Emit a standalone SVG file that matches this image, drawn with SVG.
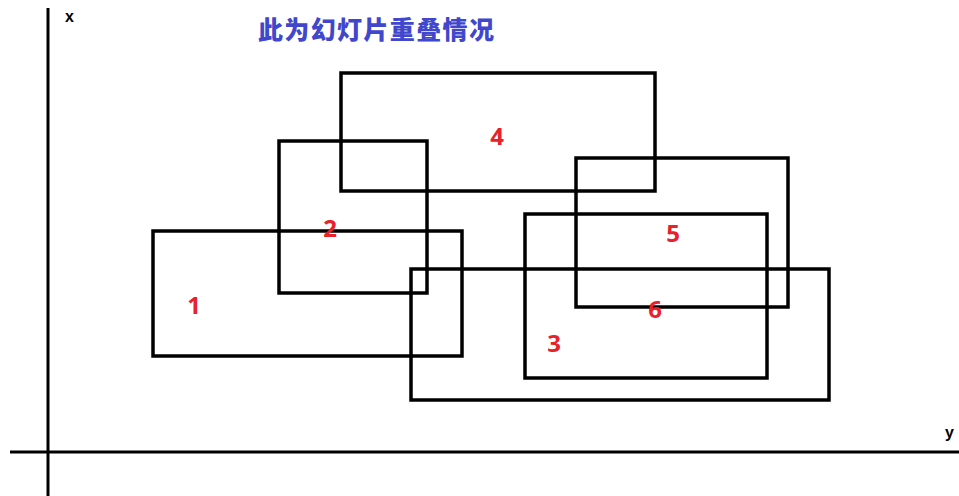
<svg xmlns="http://www.w3.org/2000/svg" width="959" height="496" viewBox="0 0 959 496">
<style>
.r{fill:none;stroke:#000;stroke-width:3.5}
.ax{stroke:#000;stroke-width:3}
.n{font-family:"Open Sans","Liberation Sans",sans-serif;font-weight:bold;font-size:24px;fill:#e8212b;text-anchor:middle}
.a{font-family:"Liberation Sans",sans-serif;font-weight:bold;font-size:16px;fill:#000}
</style>
<rect width="959" height="496" fill="#fff"/>
<g id="axes">
<line class="ax" x1="48" y1="8" x2="48" y2="496"/>
<line class="ax" x1="10" y1="452" x2="959" y2="452"/>
<text class="a" x="65" y="22">x</text>
<text class="a" x="945" y="438">y</text>
</g>
<text x="258" y="39" font-family="'Noto Sans CJK SC',sans-serif" font-weight="900" font-size="25" fill="#4047cc" textLength="236" lengthAdjust="spacing">此为幻灯片重叠情况</text>
<g id="slide1"><rect class="r" x="153" y="231" width="309" height="125"/><text class="n" x="194" y="314">1</text></g>
<g id="slide2"><rect class="r" x="279" y="141" width="148" height="152"/><text class="n" x="330" y="237">2</text></g>
<g id="slide4"><rect class="r" x="341" y="73" width="314" height="118"/><text class="n" x="497" y="145">4</text></g>
<g id="slide5"><rect class="r" x="576" y="158" width="212" height="149"/><text class="n" x="673" y="242">5</text></g>
<g id="slide6"><rect class="r" x="525" y="214" width="242" height="164"/><text class="n" x="655" y="318">6</text></g>
<g id="slide3"><rect class="r" x="411" y="269" width="418" height="131"/><text class="n" x="554" y="352">3</text></g>
</svg>
